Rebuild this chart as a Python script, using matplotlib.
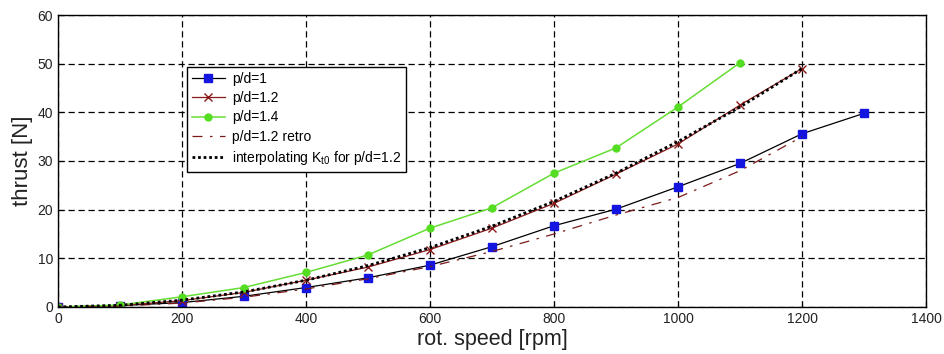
import matplotlib.pyplot as plt

plt.rcParams['font.family'] = ['Liberation Sans', 'DejaVu Sans']
plt.rcParams['mathtext.default'] = 'regular'

# rotational speed [rpm]
rpm_pd10 = [0, 100, 200, 300, 400, 500, 600, 700, 800, 900, 1000, 1100, 1200, 1300]
rpm_pd12 = [0, 100, 200, 300, 400, 500, 600, 700, 800, 900, 1000, 1100, 1200]
rpm_pd14 = [0, 100, 200, 300, 400, 500, 600, 700, 800, 900, 1000, 1100]

# measured thrust [N]
thrust_pd10 = [0, 0.3, 0.9, 2.2, 4.0, 6.0, 8.6, 12.4, 16.7, 20.1, 24.7, 29.5, 35.6, 39.8]
thrust_pd12 = [0, 0.3, 1.3, 3.0, 5.5, 8.2, 11.8, 16.2, 21.3, 27.3, 33.5, 41.5, 49.0]
thrust_pd14 = [0, 0.4, 2.1, 4.0, 7.1, 10.7, 16.2, 20.4, 27.5, 32.7, 41.1, 50.2]
thrust_pd12_retro = [0, 0.2, 0.8, 2.0, 3.7, 5.8, 8.3, 11.4, 15.0, 18.9, 22.5, 28.0, 35.0]
thrust_interp = [0, 0.35, 1.4, 3.1, 5.5, 8.5, 12.2, 16.6, 21.7, 27.5, 34.0, 41.1, 49.0]

fig = plt.figure(figsize=(9.44, 3.54), dpi=100)
ax = fig.add_axes([0.0614, 0.1328, 0.9196, 0.8248])

ax.plot(rpm_pd10, thrust_pd10, color='k', lw=0.9, marker='s', ms=6,
        mfc='#1515e0', mec='#1515e0', label='p/d=1')
ax.plot(rpm_pd12, thrust_pd12, color='#8b1a1a', lw=0.9, marker='x', ms=6,
        mew=1.0, label='p/d=1.2')
ax.plot(rpm_pd14, thrust_pd14, color='#66dd33', lw=1.1, marker='o', ms=5,
        mfc='#55dd22', mec='#55dd22', label='p/d=1.4')
ax.plot(rpm_pd12, thrust_pd12_retro, color='#7a1a1a', lw=0.9, ls=(0, (8, 6, 2, 6)),
        label='p/d=1.2 retro')
ax.plot(rpm_pd12, thrust_interp, color='k', lw=2.0, ls=(0, (1, 1)),
        label='interpolating K$_{t0}$ for p/d=1.2')

ax.set_xlim(0, 1400)
ax.set_ylim(0, 60)
ax.set_xticks(range(0, 1401, 200))
ax.set_yticks(range(0, 61, 10))
ax.grid(True, color='k', ls=(0, (5, 3)), lw=0.9)
ax.tick_params(direction='in', labelsize=10, length=4, colors='k', labelcolor='#222222')
for sp in ax.spines.values():
    sp.set_linewidth(1.0)

ax.set_xlabel('rot. speed [rpm]', fontsize=15.5, labelpad=2, color='#222222')
ax.set_ylabel('thrust [N]', fontsize=16, labelpad=3, color='#222222')

leg = ax.legend(loc='upper left', bbox_to_anchor=(0.1486, 0.822), fontsize=10,
                frameon=True, fancybox=False, edgecolor='k', framealpha=1,
                handlelength=2.4, borderpad=0.35, labelspacing=0.38, handletextpad=0.5,
                borderaxespad=0)
leg.get_frame().set_linewidth(1.0)

fig.savefig('out.png', dpi=100)
